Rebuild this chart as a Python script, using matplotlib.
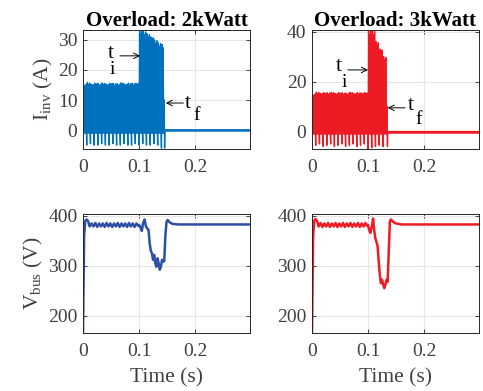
import numpy as np
import matplotlib.pyplot as plt

plt.rcParams['font.family'] = ['Liberation Serif', 'DejaVu Serif']
plt.rcParams['mathtext.fontset'] = 'custom'
plt.rcParams['mathtext.rm'] = 'Liberation Serif'
plt.rcParams['mathtext.it'] = 'Liberation Serif'

# switching period of the inverter current envelope (s)
period = 1 / 150

# per-cycle current peaks / troughs (A)
i2_hi = [15.2, 15.8, 15.3, 15.6, 15.4, 15.7, 15.3, 15.6, 15.5, 15.4, 15.7, 15.3, 15.6, 15.5, 15.6,
         33.3, 33.0, 32.0, 31.0, 30.0, 29.0, 28.5]
i2_lo = [-1.5, -5.0, -4.5, -5.0, -5.0, -4.5, -5.0, -5.0, -4.5, -5.0, -5.0, -4.5, -5.0, -5.0, -4.5,
         -5.0, -4.5, -5.0, -5.0, -4.5, -5.0, -6.0]
i2_off = 0.145
i3_hi = [15.0, 15.8, 15.4, 15.6, 15.5, 15.7, 15.3, 15.6, 15.5, 15.4, 15.7, 15.3, 15.6, 15.5, 15.6,
         40.5, 40.5, 36.0, 33.0, 30.0]
i3_lo = [-1.5, -5.5, -5.0, -6.0, -5.5, -5.0, -6.0, -5.5, -5.0, -6.0, -5.5, -5.0, -6.0, -5.5, -5.0,
         -7.0, -6.5, -6.0, -5.5, -6.0]
i3_off = 0.134

# bus voltage (V): start-up, ripple half-cycles, then overload transient
v_start_t = [0.0, 0.002, 0.004, 0.006, 0.009, 0.011]
v2_start = [165, 360, 390, 393, 390, 382]
v3_start = [165, 360, 390, 394, 390, 382]
v2_ripple = [379, 385, 379, 386, 378, 385, 379, 385, 378, 386, 379, 385, 378, 385,
             379, 386, 378, 385, 379, 385, 378, 386, 379, 385, 378, 385, 380]
v3_ripple = [379, 386, 378, 385, 379, 386, 378, 385, 379, 386, 378, 385, 379, 386,
             378, 385, 379, 386, 378, 385, 379, 386, 378, 385, 379, 386, 380]
v2_tr_t = [0.100, 0.103, 0.105, 0.107, 0.110, 0.112, 0.114, 0.117, 0.119, 0.121, 0.123, 0.125,
           0.127, 0.129, 0.131, 0.133, 0.135, 0.137, 0.139, 0.141, 0.143, 0.145, 0.147, 0.149,
           0.151, 0.155, 0.160, 0.170, 0.300]
v2_tr = [382, 376, 370, 385, 393, 380, 376, 372, 345, 330, 325, 312,
         322, 305, 298, 315, 305, 292, 298, 312, 308, 310, 360, 388,
         392, 387, 384, 383, 383]
v3_tr_t = [0.100, 0.102, 0.104, 0.107, 0.109, 0.111, 0.113, 0.115, 0.117, 0.119, 0.121, 0.123,
           0.125, 0.127, 0.129, 0.131, 0.133, 0.135, 0.137, 0.139, 0.141, 0.145, 0.150, 0.160,
           0.300]
v3_tr = [382, 372, 366, 380, 395, 372, 355, 348, 340, 310, 282, 265,
         272, 262, 255, 262, 272, 268, 330, 390, 393, 388, 385, 383,
         383]

blue_i = '#0072BD'
blue_v = '#2E4FA6'
red = '#ED1C24'


def switching_wave(hi, lo, t_off):
    t, y = [], []
    frac = [0.0, 0.15, 0.3, 0.45, 0.6, 0.75, 0.9]
    for k, (h, l) in enumerate(zip(hi, lo)):
        t0 = k * period
        vals = [l, h, -1.0, 0.96 * h, -1.0, 0.99 * h, -1.0]
        for f, v in zip(frac, vals):
            if t0 + f * period < t_off:
                t.append(t0 + f * period)
                y.append(v)
    t += [t_off, t_off + 0.0006, t_off + 0.0012, 0.3]
    y += [10.0, -6.0, 0.0, 0.0]
    return np.array(t), np.array(y)


def bus_wave(start, ripple, tr_t, tr):
    rip_t = 0.012 + np.arange(len(ripple)) * period / 2
    t = np.concatenate([v_start_t, rip_t, tr_t])
    v = np.concatenate([start, ripple, tr])
    return t, v


def label_t(ax, x, y, sub, dx, dy):
    ax.text(x, y, 't', fontsize=16, ha='center', va='center')
    ax.text(x + dx, y - dy, sub, fontsize=14, ha='center', va='center')


fig = plt.figure(figsize=(4.83, 3.91), dpi=100)
w, h = 167 / 483, 119 / 391
ax1 = fig.add_axes([83 / 483, 1 - 149 / 391, w, h])
ax2 = fig.add_axes([312 / 483, 1 - 149 / 391, w, h])
ax3 = fig.add_axes([83 / 483, 1 - 333 / 391, w, h])
ax4 = fig.add_axes([312 / 483, 1 - 333 / 391, w, h])

t, y = switching_wave(i2_hi, i2_lo, i2_off)
ax1.plot(t, y, color=blue_i, lw=1.0)
ax1.plot([i2_off + 0.0012, 0.3], [0, 0], color=blue_i, lw=1.8)
t, y = switching_wave(i3_hi, i3_lo, i3_off)
ax2.plot(t, y, color=red, lw=1.0)
ax2.plot([i3_off + 0.0012, 0.3], [0, 0], color=red, lw=1.8)

t, v = bus_wave(v2_start, v2_ripple, v2_tr_t, v2_tr)
ax3.plot(t, v, color=blue_v, lw=1.8)
t, v = bus_wave(v3_start, v3_ripple, v3_tr_t, v3_tr)
ax4.plot(t, v, color=red, lw=1.8)

ax1.set_ylim(-6.3, 33.3)
ax1.set_yticks([0, 10, 20, 30])
ax2.set_ylim(-7, 40.7)
ax2.set_yticks([0, 20, 40])
for ax in (ax3, ax4):
    ax.set_ylim(165, 404)
    ax.set_yticks([200, 300, 400])

for ax in (ax1, ax2, ax3, ax4):
    ax.set_xlim(0, 0.298)
    ax.set_xticks([0, 0.1, 0.2])
    ax.set_xticklabels(['0', '0.1', '0.2'])
    ax.grid(True, color='#e6e6e6', lw=0.8)
    ax.set_axisbelow(True)
    ax.tick_params(direction='in', top=True, right=True, length=3, width=0.6,
                   labelsize=14, colors='#262626', labelcolor='#404040')
    ax.tick_params(axis='x', pad=7)
    ax.tick_params(axis='y', pad=4)
    for s in ax.spines.values():
        s.set_color('#262626')
        s.set_linewidth(0.7)

ax1.set_title('Overload: 2kWatt', fontsize=15, fontweight='bold', pad=3)
ax2.set_title('Overload: 3kWatt', fontsize=15, fontweight='bold', pad=3)
ax1.set_ylabel(r'I$_{\mathrm{inv}}$ (A)', fontsize=15.5, color='#404040', labelpad=2)
ax3.set_ylabel(r'V$_{\mathrm{bus}}$ (V)', fontsize=15.5, color='#404040', labelpad=2)
ax3.set_xlabel('Time (s)', fontsize=15.5, color='#404040', labelpad=6)
ax4.set_xlabel('Time (s)', fontsize=15.5, color='#404040', labelpad=6)

arr = dict(arrowstyle='->', color='black', lw=0.7, shrinkA=0, shrinkB=0)
ax1.annotate('', xy=(0.102, 24.7), xytext=(0.066, 24.7), arrowprops=arr)
label_t(ax1, 0.0494, 25.5, 'i', 0.003, 5.5)
ax1.annotate('', xy=(0.1477, 9.0), xytext=(0.179, 9.0), arrowprops=arr)
label_t(ax1, 0.188, 9.0, 'f', 0.015, 4.0)
ax2.annotate('', xy=(0.100, 24.7), xytext=(0.064, 24.7), arrowprops=arr)
label_t(ax2, 0.048, 26.0, 'i', 0.009, 6.5)
ax2.annotate('', xy=(0.135, 9.5), xytext=(0.166, 9.5), arrowprops=arr)
label_t(ax2, 0.177, 10.5, 'f', 0.014, 5.5)

fig.savefig('out.png', dpi=100)
